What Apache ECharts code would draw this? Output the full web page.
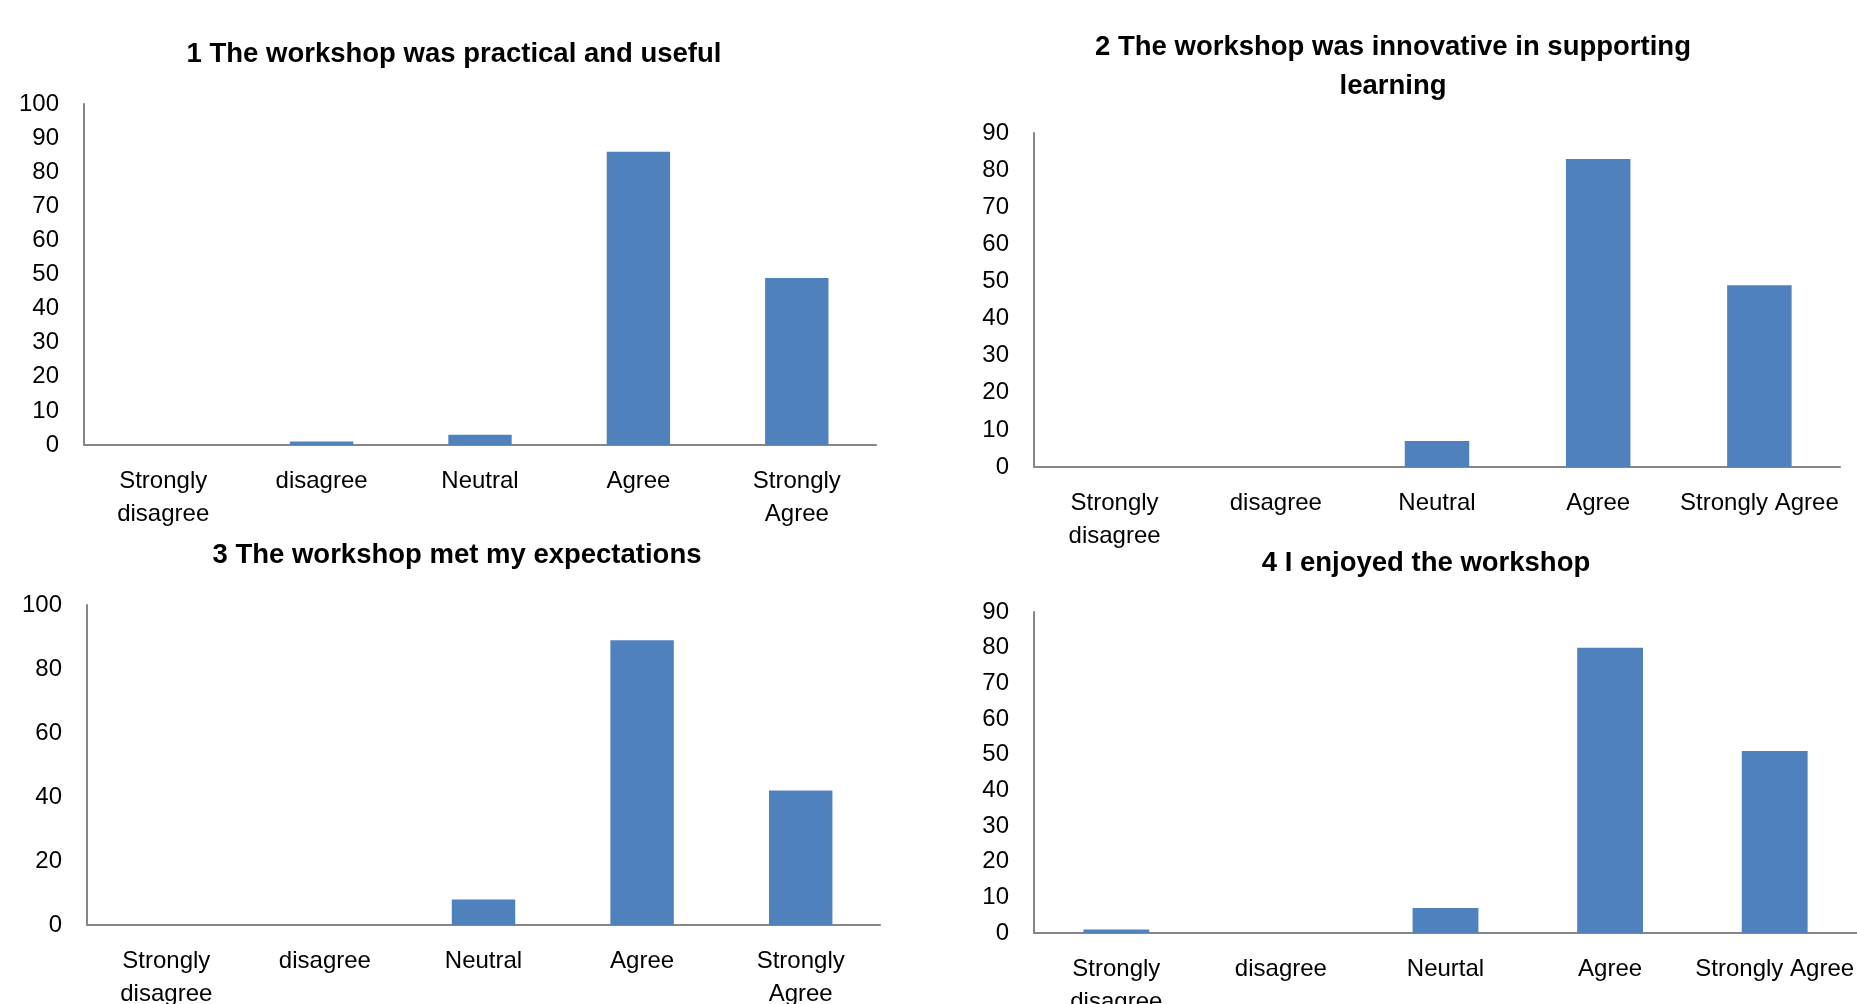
<!DOCTYPE html>
<html>
<head>
<meta charset="utf-8">
<script src="https://cdn.jsdelivr.net/npm/echarts@6/dist/echarts.min.js"></script>
<style>
html,body{margin:0;padding:0;background:#fff;overflow:hidden;}
#c{width:1857px;height:1004px;}
</style>
</head>
<body>
<div id="c"></div>
<script>
// ---- data ----
const titles = [
  '1 The workshop was practical and useful',
  '2 The workshop was innovative in supporting\nlearning',
  '3 The workshop met my expectations',
  '4 I enjoyed the workshop'
];
const categories1 = ['Strongly\ndisagree', 'disagree', 'Neutral', 'Agree', 'Strongly\nAgree'];
const categories2 = ['Strongly\ndisagree', 'disagree', 'Neutral', 'Agree', 'Strongly Agree'];
const categories3 = ['Strongly\ndisagree', 'disagree', 'Neutral', 'Agree', 'Strongly\nAgree'];
const categories4 = ['Strongly\ndisagree', 'disagree', 'Neurtal', 'Agree', 'Strongly Agree'];
const values1 = [0, 1, 3, 86, 49];
const values2 = [0, 0, 7, 83, 49];
const values3 = [0, 0, 8, 89, 42];
const values4 = [1, 0, 7, 80, 51];
const yMax = [100, 90, 100, 90];
const yStep = [10, 10, 20, 10];

// ---- layout ----
const FONT = '"Liberation Sans", Arial, sans-serif';
const grids = [
  {left: 84, top: 104, width: 792, height: 341},
  {left: 1034, top: 133, width: 806, height: 334},
  {left: 87, top: 605, width: 793, height: 320},
  {left: 1034, top: 612, width: 823, height: 321}
];
const titlePos = [
  {x: 454, y: 35},
  {x: 1393, y: 28},
  {x: 457, y: 536},
  {x: 1426, y: 544}
];
const cats = [categories1, categories2, categories3, categories4];
const vals = [values1, values2, values3, values4];
const AXIS = '#868686';
const BAR = '#4F81BD';

const option = {
  backgroundColor: '#fff',
  animation: false,
  title: titles.map((t, i) => ({
    text: t,
    left: titlePos[i].x,
    top: titlePos[i].y,
    textAlign: 'center',
    padding: 0,
    textStyle: {fontFamily: FONT, fontWeight: 'bold', fontSize: 27.5, color: '#000', lineHeight: 39}
  })),
  grid: grids.map(g => Object.assign({containLabel: false, outerBoundsMode: 'none'}, g)),
  xAxis: cats.map((c, i) => ({
    type: 'category',
    gridIndex: i,
    data: c,
    axisLine: {lineStyle: {color: AXIS, width: 2}},
    axisTick: {show: false},
    axisLabel: {interval: 0, margin: 20, fontFamily: FONT, fontSize: 24, color: '#000', lineHeight: 33, hideOverlap: false}
  })),
  yAxis: yMax.map((m, i) => ({
    type: 'value',
    gridIndex: i,
    min: 0,
    max: m,
    interval: yStep[i],
    axisLine: {show: true, lineStyle: {color: AXIS, width: 2}},
    axisTick: {show: false},
    splitLine: {show: false},
    axisLabel: {margin: 25, fontFamily: FONT, fontSize: 24, color: '#000'}
  })),
  series: vals.map((v, i) => ({
    type: 'bar',
    xAxisIndex: i,
    yAxisIndex: i,
    data: v,
    barWidth: '40%',
    itemStyle: {color: BAR}
  }))
};

const chart = echarts.init(document.getElementById('c'), null, {renderer: 'canvas'});
chart.setOption(option);
</script>
</body>
</html>
